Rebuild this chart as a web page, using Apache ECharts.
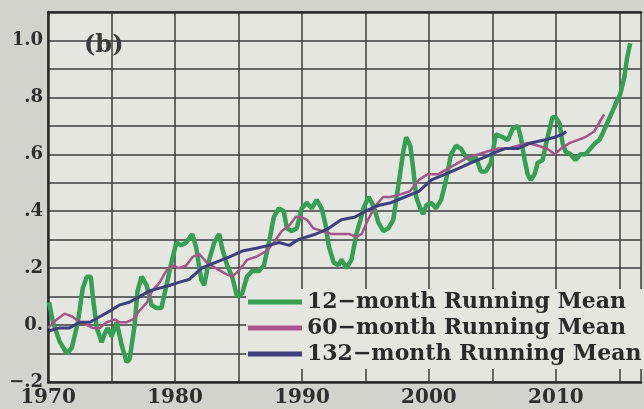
<!DOCTYPE html>
<html>

<head>
    <meta charset="utf-8">
    <script src="https://cdn.jsdelivr.net/npm/echarts@6/dist/echarts.min.js"></script>
    <style>
        html, body { margin: 0; padding: 0; background: #d3d3cd; }
        #main { width: 644px; height: 409px; }
    </style>
</head>

<body>
    <div id="main"></div>
    <script type="text/javascript">

        // 12-month running mean (green)
        var years12 = [1970.08, 1970.39, 1970.94, 1971.49, 1971.88, 1972.35, 1972.74, 1973.06, 1973.37, 1973.53,
            1973.84, 1974.23, 1974.47, 1974.70, 1975.02, 1975.41, 1975.80, 1976.19, 1976.43, 1976.82,
            1977.05, 1977.37, 1977.76, 1978.15, 1978.54, 1978.93, 1979.33, 1979.72, 1980.11, 1980.50,
            1980.89, 1981.36, 1981.68, 1982.07, 1982.30, 1982.70, 1983.09, 1983.48, 1983.71, 1984.11,
            1984.50, 1984.89, 1985.28, 1985.67, 1986.07, 1986.61, 1987.01, 1987.40, 1987.79, 1988.18,
            1988.57, 1988.81, 1989.20, 1989.59, 1989.98, 1990.38, 1990.77, 1991.16, 1991.55, 1991.87,
            1992.10, 1992.49, 1992.88, 1993.12, 1993.51, 1993.90, 1994.29, 1994.61, 1994.84, 1995.24,
            1995.63, 1996.02, 1996.41, 1996.80, 1997.19, 1997.59, 1997.98, 1998.21, 1998.53, 1998.76,
            1999.00, 1999.31, 1999.55, 1999.78, 2000.17, 2000.56, 2000.96, 2001.35, 2001.74, 2002.13,
            2002.52, 2002.92, 2003.31, 2003.70, 2004.09, 2004.48, 2004.87, 2005.27, 2005.82, 2006.21,
            2006.60, 2006.99, 2007.23, 2007.54, 2007.77, 2008.01, 2008.32, 2008.56, 2008.95, 2009.34,
            2009.73, 2009.97, 2010.28, 2010.52, 2010.75, 2011.14, 2011.54, 2011.93, 2012.32, 2012.71,
            2013.10, 2013.42, 2013.65, 2014.04, 2014.44, 2014.83, 2015.06, 2015.38, 2015.61, 2015.85];
        var values12 = [0.08, 0.01, -0.06, -0.10, -0.08, 0.01, 0.13, 0.17, 0.17, 0.10,
            -0.01, -0.06, -0.03, -0.01, -0.04, 0.01, -0.07, -0.13, -0.12, 0.00,
            0.12, 0.17, 0.14, 0.07, 0.06, 0.06, 0.14, 0.22, 0.29, 0.28,
            0.29, 0.32, 0.27, 0.16, 0.14, 0.23, 0.29, 0.32, 0.27, 0.21,
            0.17, 0.10, 0.11, 0.17, 0.19, 0.19, 0.21, 0.29, 0.38, 0.41,
            0.40, 0.34, 0.33, 0.34, 0.41, 0.43, 0.41, 0.44, 0.41, 0.35,
            0.28, 0.22, 0.21, 0.23, 0.20, 0.23, 0.32, 0.37, 0.41, 0.45,
            0.42, 0.36, 0.33, 0.34, 0.37, 0.49, 0.61, 0.66, 0.63, 0.55,
            0.45, 0.41, 0.39, 0.42, 0.43, 0.41, 0.44, 0.51, 0.60, 0.63,
            0.62, 0.59, 0.58, 0.59, 0.54, 0.54, 0.57, 0.67, 0.66, 0.65,
            0.69, 0.70, 0.66, 0.58, 0.53, 0.51, 0.53, 0.57, 0.58, 0.66,
            0.73, 0.73, 0.71, 0.64, 0.61, 0.60, 0.58, 0.60, 0.60, 0.62,
            0.64, 0.65, 0.67, 0.71, 0.75, 0.79, 0.81, 0.87, 0.94, 0.99];

        // 60-month running mean (purple)
        var years60 = [1970.0, 1970.7, 1971.3, 1971.9, 1972.5, 1973.1, 1973.5, 1974.1, 1974.6, 1975.3,
            1975.6, 1976.2, 1976.7, 1977.2, 1977.8, 1978.2, 1978.8, 1979.3, 1979.8, 1980.3,
            1980.9, 1981.4, 1981.9, 1982.5, 1983.2, 1984.0, 1984.5, 1985.0, 1985.7, 1986.4,
            1987.2, 1987.8, 1988.4, 1989.0, 1989.5, 1989.9, 1990.4, 1990.9, 1991.6, 1992.3,
            1992.9, 1993.7, 1994.3, 1994.7, 1995.2, 1995.8, 1996.4, 1997.0, 1997.8, 1998.5,
            1999.2, 1999.9, 2000.7, 2001.5, 2002.3, 2003.1, 2003.9, 2004.6, 2005.4, 2006.2,
            2007.0, 2007.8, 2008.6, 2009.3, 2009.9, 2010.4, 2011.1, 2011.7, 2012.3, 2013.0,
            2013.4, 2013.8];
        var values60 = [-0.01, 0.02, 0.04, 0.03, 0.01, 0.00, -0.01, -0.01, 0.01, 0.02,
            0.01, 0.01, 0.02, 0.05, 0.08, 0.12, 0.15, 0.19, 0.21, 0.20,
            0.21, 0.24, 0.25, 0.22, 0.20, 0.18, 0.17, 0.19, 0.23, 0.24,
            0.26, 0.29, 0.33, 0.35, 0.38, 0.38, 0.37, 0.34, 0.33, 0.32,
            0.32, 0.32, 0.31, 0.32, 0.37, 0.42, 0.45, 0.45, 0.46, 0.47,
            0.51, 0.53, 0.53, 0.55, 0.57, 0.59, 0.60, 0.61, 0.62, 0.62,
            0.63, 0.64, 0.63, 0.62, 0.60, 0.62, 0.64, 0.65, 0.66, 0.68,
            0.71, 0.74];

        // 132-month running mean (dark blue)
        var years132 = [1970.1, 1970.9, 1971.7, 1972.5, 1973.3, 1974.1, 1974.9, 1975.6, 1976.4, 1977.2,
            1978.0, 1978.8, 1979.6, 1980.3, 1981.1, 1982.1, 1983.2, 1984.3, 1985.3, 1986.4,
            1987.4, 1988.2, 1989.0, 1989.7, 1991.1, 1992.1, 1993.1, 1994.2, 1995.0, 1996.0,
            1997.0, 1998.1, 1999.2, 2000.2, 2001.3, 2002.3, 2003.3, 2004.4, 2005.4, 2006.0,
            2007.0, 2008.0, 2009.1, 2009.9, 2010.5, 2010.8];
        var values132 = [-0.02, -0.01, -0.01, 0.01, 0.01, 0.03, 0.05, 0.07, 0.08, 0.10,
            0.12, 0.13, 0.14, 0.15, 0.16, 0.20, 0.22, 0.24, 0.26, 0.27,
            0.28, 0.29, 0.28, 0.30, 0.32, 0.34, 0.37, 0.38, 0.40, 0.42,
            0.43, 0.45, 0.47, 0.51, 0.53, 0.55, 0.57, 0.59, 0.61, 0.62,
            0.62, 0.64, 0.65, 0.66, 0.67, 0.68];

        var seriesNames = ['12\u2212month Running Mean', '60\u2212month Running Mean', '132\u2212month Running Mean'];
        var decadeTicks = [1970, 1980, 1990, 2000, 2010];
        var yTickLabels = { '-2': '\u2212.2', '0': '0.', '2': '.2', '4': '.4', '6': '.6', '8': '.8', '10': '1.0' };

        function zip(xs, ys) {
            return xs.map(function (x, i) { return [x, ys[i]]; });
        }

        var serif = 'DejaVu Serif';
        var frame = { color: '#2b2b2b', width: 2.5 };
        var gridLine = { color: '#3c3c3c', width: 1.5 };
        var myChart = echarts.init(document.getElementById('main'));

        myChart.setOption({
            backgroundColor: '#d3d3cd',
            animation: false,
            title: {
                text: '(b)',
                left: 79,
                top: 29,
                textStyle: { fontFamily: serif, fontSize: 24, fontWeight: 'bold', color: '#3a3a3a' }
            },
            // plot area runs off the right edge, so no right border is drawn
            grid: {
                left: 48, right: 0, top: 12, bottom: 27,
                show: true,
                backgroundColor: '#e6e6e1',
                borderWidth: 0
            },
            legend: {
                orient: 'vertical',
                left: 246,
                top: 289,
                icon: 'rect',
                itemWidth: 54,
                itemHeight: 5,
                itemGap: 4,
                padding: [2, 6, 4, 2],
                backgroundColor: '#e6e6e1',
                textStyle: { fontFamily: serif, fontSize: 22, fontWeight: 'bold', color: '#2a2a2a', lineHeight: 22 },
                data: seriesNames
            },
            xAxis: [
                {
                    type: 'value',
                    min: 1970,
                    max: 2016.7,
                    interval: 5,
                    axisLine: { show: true, onZero: false, lineStyle: frame },
                    axisTick: { show: false },
                    splitLine: { show: true, lineStyle: gridLine },
                    axisLabel: {
                        margin: 6,
                        fontFamily: serif, fontSize: 20, fontWeight: 'bold', color: '#2e2e2e',
                        formatter: function (v) {
                            return decadeTicks.indexOf(Math.round(v)) >= 0 ? String(Math.round(v)) : '';
                        }
                    }
                },
                {
                    // top frame line only
                    type: 'value',
                    position: 'top',
                    min: 1970,
                    max: 2016.7,
                    axisLine: { show: true, onZero: false, lineStyle: frame },
                    axisTick: { show: false },
                    axisLabel: { show: false },
                    splitLine: { show: false }
                }
            ],
            yAxis: {
                type: 'value',
                min: -0.2,
                max: 1.1,
                interval: 0.1,
                axisLine: { show: true, onZero: false, lineStyle: frame },
                axisTick: { show: false },
                splitLine: { show: true, lineStyle: gridLine },
                axisLabel: {
                    margin: 5,
                    fontFamily: serif, fontSize: 18, fontWeight: 'bold', color: '#2e2e2e',
                    formatter: function (v) {
                        var k = String(Math.round(v * 10));
                        return yTickLabels[k] || '';
                    }
                }
            },
            series: [
                {
                    name: seriesNames[0], type: 'line', showSymbol: false, symbol: 'none',
                    data: zip(years12, values12),
                    itemStyle: { color: '#35a054' },
                    lineStyle: { color: '#35a054', width: 4.5 }
                },
                {
                    name: seriesNames[1], type: 'line', showSymbol: false, symbol: 'none',
                    data: zip(years60, values60),
                    itemStyle: { color: '#a65489' },
                    lineStyle: { color: '#a65489', width: 2.5 }
                },
                {
                    name: seriesNames[2], type: 'line', showSymbol: false, symbol: 'none',
                    data: zip(years132, values132),
                    itemStyle: { color: '#3e3f7e' },
                    lineStyle: { color: '#3e3f7e', width: 3 }
                }
            ]
        });
    </script>
</body>

</html>
